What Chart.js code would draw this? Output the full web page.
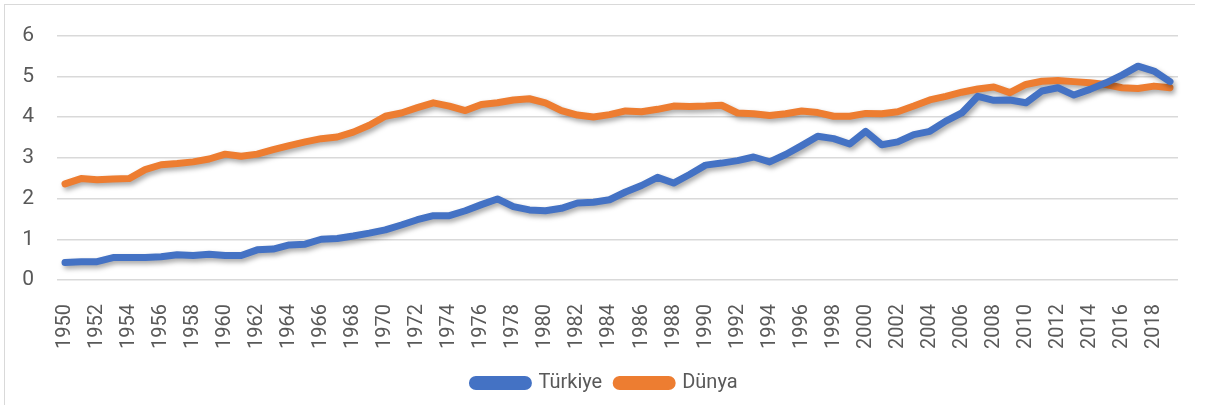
<!DOCTYPE html>
<html>
<head>
<meta charset="utf-8">
<script src="https://cdn.jsdelivr.net/npm/chart.js@4.4.1/dist/chart.umd.min.js"></script>
<style>
  html, body { margin: 0; padding: 0; overflow: hidden; background: #fff; }
  #frame { position: absolute; left: 4px; top: 4px; width: 1190px; height: 400px;
           border-left: 1.5px solid #d9d9d9; border-top: 1.5px solid #d9d9d9; }
  #myChart { position: absolute; left: 0; top: 0; }
</style>
</head>
<body>
<div id="frame"></div>
<canvas id="myChart" width="1205" height="419"></canvas>
<script>
// years 1950 - 2019
let years = []
for (let y = 1950; y <= 2019; y++) years.push(String(y))

let turkiye = [
  0.43, 0.45, 0.45, 0.55, 0.55, 0.55, 0.57, 0.62, 0.60, 0.63,
  0.60, 0.60, 0.74, 0.76, 0.86, 0.88, 1.00, 1.02, 1.08, 1.15,
  1.23, 1.35, 1.48, 1.58, 1.58, 1.70, 1.85, 1.99, 1.80, 1.72,
  1.70, 1.76, 1.89, 1.91, 1.97, 2.16, 2.32, 2.52, 2.38, 2.59,
  2.82, 2.87, 2.93, 3.02, 2.90, 3.08, 3.30, 3.53, 3.47, 3.34,
  3.65, 3.32, 3.39, 3.57, 3.65, 3.90, 4.10, 4.51, 4.41, 4.42,
  4.35, 4.64, 4.72, 4.54, 4.68, 4.84, 5.03, 5.25, 5.13, 4.87
]

let dunya = [
  2.36, 2.49, 2.46, 2.48, 2.49, 2.71, 2.83, 2.86, 2.90, 2.97,
  3.09, 3.04, 3.09, 3.20, 3.30, 3.39, 3.47, 3.51, 3.63, 3.80,
  4.02, 4.10, 4.23, 4.35, 4.27, 4.16, 4.31, 4.35, 4.42, 4.45,
  4.35, 4.16, 4.05, 4.00, 4.06, 4.15, 4.13, 4.19, 4.27, 4.26,
  4.27, 4.29, 4.10, 4.08, 4.04, 4.08, 4.15, 4.11, 4.02, 4.02,
  4.09, 4.08, 4.13, 4.27, 4.42, 4.51, 4.61, 4.69, 4.74, 4.60,
  4.80, 4.88, 4.90, 4.87, 4.84, 4.80, 4.72, 4.70, 4.76, 4.72
]

let yTicks = [0, 1, 2, 3, 4, 5, 6]

const textColor = '#595959'
const font = 'Roboto'

// soft drop shadow under the lines, like the office chart
const lineShadow = {
  id: 'lineShadow',
  beforeDatasetDraw(chart) {
    const ctx = chart.ctx
    ctx.save()
    ctx.shadowColor = 'rgba(0,0,0,0.35)'
    ctx.shadowBlur = 5
    ctx.shadowOffsetX = 2
    ctx.shadowOffsetY = 3
  },
  afterDatasetDraw(chart) {
    chart.ctx.restore()
  }
}

// legend in the original is centred on the whole frame, not the padded box
const legendShift = {
  id: 'legendShift',
  afterLayout(chart) {
    if (chart.legend) chart.legend.left = 32
  }
}

var ctx = document.getElementById('myChart')
var myLineChart = new Chart(ctx, {
  type: 'line',
  data: {
    labels: years,
    datasets: [{
      label: 'Türkiye',
      data: turkiye,
      borderColor: '#4472C4',
      backgroundColor: '#4472C4',
      borderWidth: 7,
      pointRadius: 0,
      tension: 0,
      borderJoinStyle: 'round',
      borderCapStyle: 'round'
    }, {
      label: 'Dünya',
      data: dunya,
      borderColor: '#ED7D31',
      backgroundColor: '#ED7D31',
      borderWidth: 7,
      pointRadius: 0,
      tension: 0,
      borderJoinStyle: 'round',
      borderCapStyle: 'round'
    }]
  },
  plugins: [lineShadow, legendShift],
  options: {
    responsive: false,
    animation: false,
    layout: { padding: { top: 33, right: 27, left: 0, bottom: 16 } },
    plugins: {
      tooltip: { enabled: false },
      legend: {
        position: 'bottom',
        labels: {
          color: textColor,
          font: { family: font, size: 20 },
          boxWidth: 56,
          boxHeight: 7,
          useBorderRadius: true,
          borderRadius: 3.5,
          padding: 14
        }
      }
    },
    scales: {
      x: {
        offset: true,
        grid: { display: false, offset: true },
        border: { display: false },
        afterFit(scale) {
          scale.height = 79
          scale.paddingLeft = 0
          scale.paddingRight = 0
        },
        ticks: {
          color: textColor,
          font: { family: font, size: 20 },
          autoSkip: false,
          maxRotation: 90,
          minRotation: 90,
          padding: 16,
          callback(val, i) { return i % 2 === 0 ? years[i] : '' }
        }
      },
      y: {
        min: 0,
        max: 6,
        afterBuildTicks(scale) { scale.ticks = yTicks.map(v => ({ value: v })) },
        afterFit(scale) { scale.width = 57 },
        grid: { color: '#d9d9d9', lineWidth: 1.5, drawTicks: false },
        border: { display: false },
        ticks: {
          color: textColor,
          font: { family: font, size: 21 },
          padding: 23
        }
      }
    }
  }
})
</script>
</body>
</html>
